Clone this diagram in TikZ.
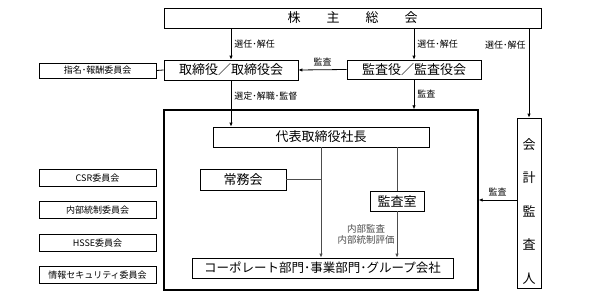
\documentclass[tikz,border=0pt]{standalone}
\usepackage{fontspec}
\setmainfont{Noto Sans CJK JP}
\usepackage{tikz}
\usetikzlibrary{positioning,arrows.meta}

\begin{document}
\begin{tikzpicture}[x=1pt, y=-1pt,
        box/.style={draw, thick, inner sep=0pt, align=center, font=\fontsize{13}{15}\selectfont},
        cbox/.style={draw, thick, inner sep=0pt, minimum width=117pt, minimum height=17pt,
                     font=\fontsize{9}{11}\selectfont},
        lbl/.style={font=\fontsize{9}{11}\selectfont, inner sep=1pt},
        arr/.style={-{Latex[length=4pt,width=3.5pt]}, thick},
        sub/.style={black!70, semithick}
    ]
    \useasboundingbox (0,0) rectangle (604,305);
    \node[box, minimum width=377pt, minimum height=20pt] (gsm) at (352.5,18) {株\hspace{2em}主\hspace{2em}総\hspace{2em}会};
    \node[box, minimum width=134pt, minimum height=20pt] (board) at (231,70) {取締役／取締役会};
    \node[box, minimum width=134pt, minimum height=19pt] (kansayaku) at (414,69.5) {監査役／監査役会};
    \node[cbox, minimum height=15pt] (nominate) at (97.5,70.5) {指名･報酬委員会};
    \node[draw, line width=1.4pt, minimum width=314pt, minimum height=180pt] (exec) at (321,200) {};
    \node[box, minimum width=216pt, minimum height=20pt] (president) at (321,137) {代表取締役社長};
    \node[box, minimum width=86pt, minimum height=21pt] (jomukai) at (243,179.5) {常務会};
    \node[box, minimum width=54pt, minimum height=20pt] (kansa) at (397,201) {監査室};
    \node[box, minimum width=261pt, minimum height=20pt, font=\fontsize{12.5}{15}\selectfont] (corporate) at (322.5,268) {コーポレート部門･事業部門･グループ会社};
    \node[box, minimum width=24pt, minimum height=170pt, font=\fontsize{13}{33.5}\selectfont] (auditor) at (529,203) {\\[-6pt]会\\計\\監\\査\\人};
    \node[cbox] (csr) at (97.5,178) {CSR委員会};
    \node[cbox, below=14.5pt of csr] (icc) {内部統制委員会};
    \node[cbox, below=14.5pt of icc] (hsse) {HSSE委員会};
    \node[cbox, below=14.5pt of hsse] (infosec) {情報セキュリティ委員会};
    \draw[arr] (board.north |- gsm.south) -- node[lbl, right=2pt] {選任･解任} (board.north);
    \draw[arr] (kansayaku.north |- gsm.south) -- node[lbl, right=2pt] {選任･解任} (kansayaku.north);
    \draw[arr] (auditor.north |- gsm.south) -- node[lbl, left=2pt, pos=0.19] {選任･解任} (auditor.north);
    \draw[arr] (kansayaku.west) -- node[lbl, above=2pt] {監査} (board.east);
    \draw[thick] (nominate.east) -- (board.west);
    \draw[arr] (board.south) -- node[lbl, right=2pt, pos=0.34] {選定･解職･監督} (president.north -| board.south);
    \draw[arr] (kansayaku.south) -- node[lbl, right=2pt] {監査} (exec.north -| kansayaku.south);
    \draw[arr] (auditor.west |- exec.east) -- node[lbl, above=3pt] {監査} (exec.east);
    \draw[sub, arr] (president.south) -- (president.south |- corporate.north);
    \draw[sub] (jomukai.east) -- (jomukai.east -| president.south);
    \draw[sub] (president.south -| kansa.north) -- (kansa.north);
    \draw[sub, arr] (kansa.south) -- node[lbl, left=1pt, align=center, font=\fontsize{9.5}{11}\selectfont] {内部監査\\内部統制評価} (kansa.south |- corporate.north);
\end{tikzpicture}
\end{document}
